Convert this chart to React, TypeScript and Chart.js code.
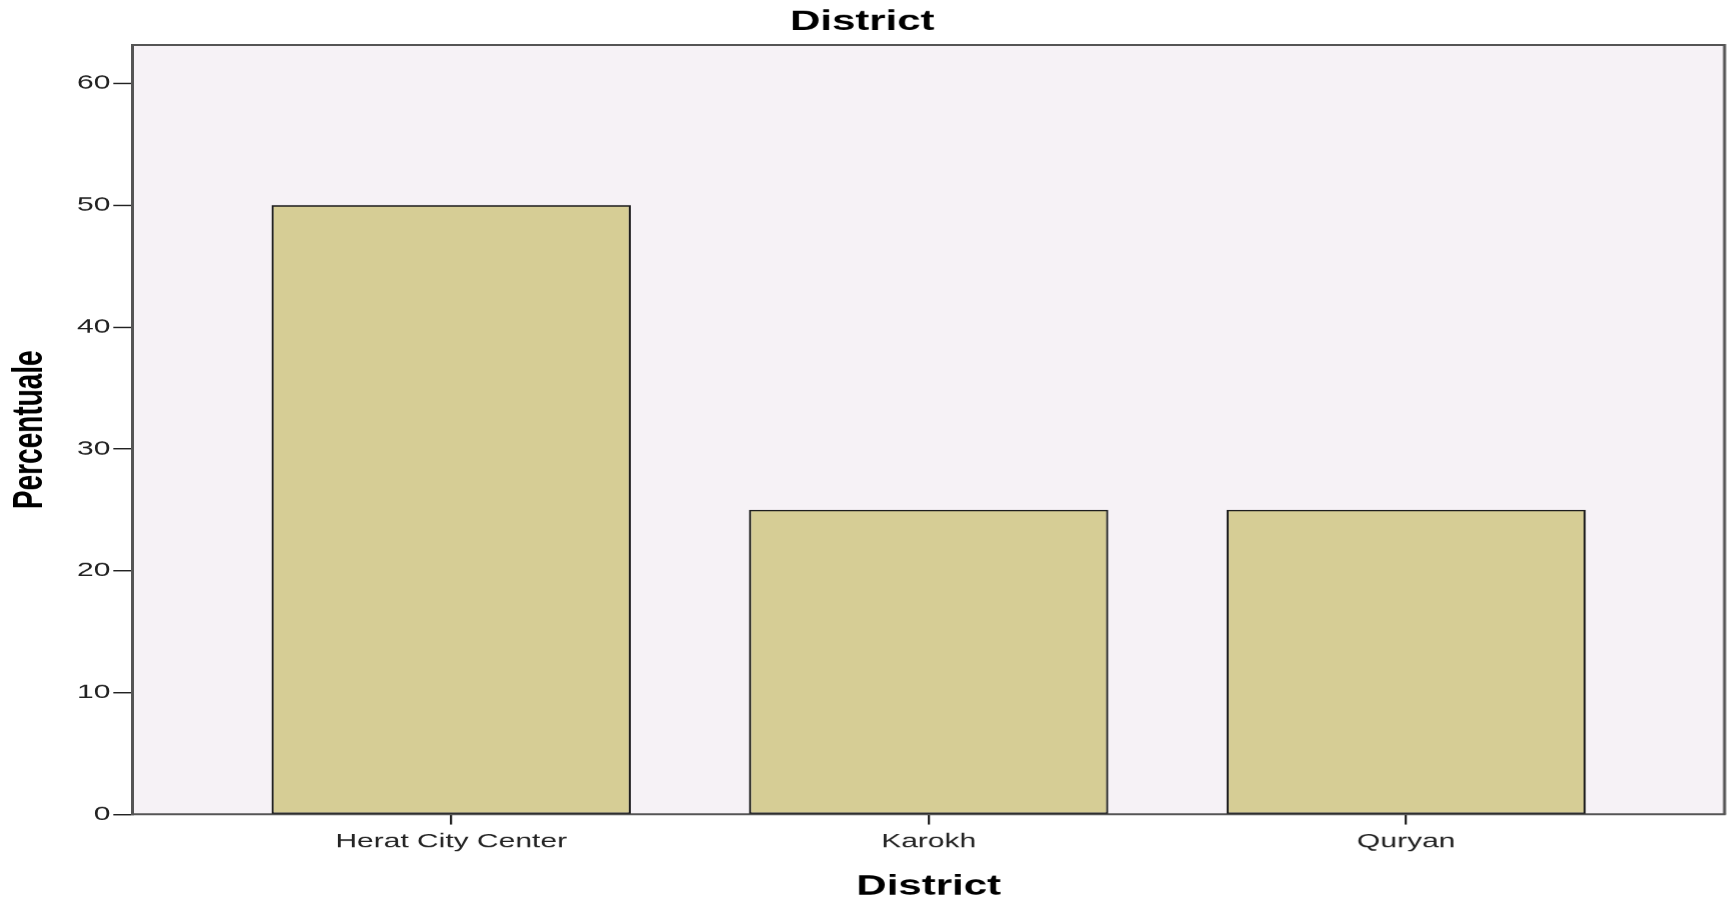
import React, { useEffect, useRef } from "react";
import { Chart, registerables } from "chart.js";

Chart.register(...registerables);

// ---- data ----
const categories: string[] = ["Herat City Center", "Karokh", "Quryan"];
const percentValues: number[] = [50, 25, 25];
const yTickValues: number[] = [0, 10, 20, 30, 40, 50, 60];
const yAxisMax = 63.15;
const chartTitle = "District";
const xAxisTitle = "District";
const yAxisTitle = "Percentuale";

// ---- styles ----
const STRETCH = 1.5; // the reference is horizontally stretched
const FULL_W = 1736;
const FULL_H = 900;
const FONT = "'Liberation Sans', Arial, sans-serif";
const PLOT_BG = "#F6F2F6";
const BAR_FILL = "#D6CD95";
const BAR_BORDER = "#1E1E1E";
const AXIS_COLOR = "#555555";

const framePlugin = {
  id: "plotFrame",
  beforeDraw(chart: any) {
    const { ctx, chartArea } = chart;
    if (!chartArea) return;
    ctx.save();
    ctx.fillStyle = PLOT_BG;
    ctx.fillRect(chartArea.left, chartArea.top, chartArea.width, chartArea.height);
    ctx.restore();
  },
  afterDraw(chart: any) {
    const { ctx, chartArea } = chart;
    if (!chartArea) return;
    ctx.save();
    ctx.strokeStyle = AXIS_COLOR;
    ctx.lineWidth = 2;
    ctx.beginPath();
    ctx.moveTo(chartArea.left, chartArea.top);
    ctx.lineTo(chartArea.right, chartArea.top);
    ctx.lineTo(chartArea.right, chartArea.bottom);
    ctx.stroke();
    ctx.restore();
  },
};

export default function App() {
  const canvasRef = useRef<HTMLCanvasElement | null>(null);

  useEffect(() => {
    if (!canvasRef.current) return;
    const points = percentValues.map((v, i) => ({ x: i + 1, y: v }));
    const chart = new Chart(canvasRef.current, {
      type: "bar",
      data: {
        datasets: [
          {
            label: "Percentuale",
            data: points as any,
            backgroundColor: BAR_FILL,
            borderColor: BAR_BORDER,
            borderWidth: 1.5,
            borderSkipped: false,
            categoryPercentage: 1,
            barPercentage: 0.7525,
          },
        ],
      },
      options: {
        animation: false,
        responsive: true,
        maintainAspectRatio: false,
        devicePixelRatio: 1.5,
        layout: { padding: { top: 0, right: 7.3, bottom: 0, left: 0 } },
        plugins: {
          legend: { display: false },
          tooltip: { enabled: false },
          title: {
            display: true,
            text: chartTitle,
            color: "#000",
            font: { family: FONT, size: 28, weight: "bold" },
            padding: { top: 5.5, bottom: 5.9 },
          },
        },
        scales: {
          x: {
            type: "linear",
            min: 1 - 0.5 - 1 / 6,
            max: categories.length + 0.5 + 1 / 6,
            offset: false,
            afterBuildTicks: (scale: any) => {
              scale.ticks = categories.map((_, i) => ({ value: i + 1 }));
            },
            ticks: {
              autoSkip: false,
              maxRotation: 0,
              padding: 5,
              color: "#222",
              font: { family: FONT, size: 20 },
              callback: (value: any) => categories[Number(value) - 1] ?? "",
            },
            grid: {
              display: true,
              offset: false,
              drawOnChartArea: false,
              drawTicks: true,
              tickLength: 10,
              color: "#222",
              lineWidth: 1.5,
            },
            border: { display: true, color: AXIS_COLOR, width: 2 },
            title: {
              display: true,
              text: xAxisTitle,
              color: "#000",
              font: { family: FONT, size: 28, weight: "bold" },
              padding: { top: 11.9, bottom: -4 },
            },
          },
          y: {
            type: "linear",
            min: 0,
            max: yAxisMax,
            afterBuildTicks: (scale: any) => {
              scale.ticks = yTickValues.map((v) => ({ value: v }));
            },
            ticks: {
              stepSize: 10,
              includeBounds: false,
              padding: 2,
              color: "#222",
              font: { family: FONT, size: 20 },
            },
            grid: {
              display: true,
              offset: false,
              drawOnChartArea: false,
              drawTicks: true,
              tickLength: 13,
              color: "#222",
              lineWidth: 1.5,
            },
            border: { display: true, color: AXIS_COLOR, width: 2 },
            title: {
              display: true,
              text: yAxisTitle,
              color: "#000",
              font: { family: FONT, size: 28, weight: "bold" },
              padding: { top: 3.2, bottom: 12.5 },
            },
          },
        },
      },
      plugins: [framePlugin],
    });
    return () => chart.destroy();
  }, []);

  return (
    <div
      style={{
        position: "fixed",
        left: 0,
        top: 0,
        width: FULL_W,
        height: FULL_H,
        overflow: "hidden",
        background: "#fff",
      }}
    >
      <div
        style={{
          width: FULL_W / STRETCH,
          height: FULL_H,
          transform: `scaleX(${STRETCH})`,
          transformOrigin: "0 0",
          position: "relative",
        }}
      >
        <canvas ref={canvasRef} />
      </div>
    </div>
  );
}
